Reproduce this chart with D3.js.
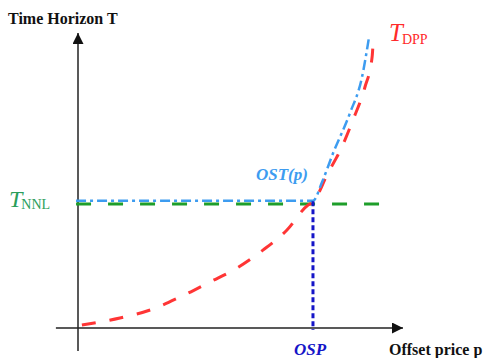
<!DOCTYPE html>
<html>
<head>
<meta charset="utf-8">
<script src="https://cdn.jsdelivr.net/npm/d3@7"></script>
<style>
  body { margin: 0; background: #fff; }
  text { font-family: "Liberation Serif", "DejaVu Serif", serif; }
</style>
</head>
<body>
<div id="chart"></div>
<script>
// T_DPP curve (offset price p, time horizon T)
const dppP = [1.2, 12.9, 22.2, 31.4, 40.6, 48.9, 56.9, 64.3, 70.8, 72.3, 76.9, 81.2, 84.6, 88.3, 90.5, 90.8];
const dppT = [1.0, 3.4, 6.1, 10.5, 15.6, 20.3, 26.4, 33.2, 41.7, 42.7, 52.5, 61.4, 70.5, 81.7, 91.9, 96.9];

// OST(p) curve
const ostP = [-0.6, 72.3, 75.1, 78.5, 83.7, 87.4, 89.5];
const ostT = [43.1, 43.1, 49.5, 59.3, 72.9, 85.1, 98.3];

// T_NNL level and OSP
const nnlP = [-0.6, 97.5];
const nnlT = [42.0, 42.0];
const ospP = 72.3;
const ospT = [43.0, -0.7];

const width = 483, height = 358;

const svg = d3.select('#chart')
  .append('svg')
  .attr('width', width)
  .attr('height', height);

const x = d3.scaleLinear().domain([0, 100]).range([78, 403]);
const y = d3.scaleLinear().domain([0, 100]).range([328, 33]);

// arrow marker
svg.append('defs').append('marker')
  .attr('id', 'arrow')
  .attr('viewBox', '0 0 10 10')
  .attr('refX', 10).attr('refY', 5)
  .attr('markerWidth', 11).attr('markerHeight', 11)
  .attr('markerUnits', 'userSpaceOnUse')
  .attr('orient', 'auto')
  .append('path')
  .attr('d', 'M0,0 L10,5 L0,10 Z')
  .attr('fill', '#111');

// axes
svg.append('line')
  .attr('x1', x(-6.8)).attr('y1', y(0))
  .attr('x2', x(100)).attr('y2', y(0))
  .attr('stroke', '#222').attr('stroke-width', 1.5)
  .attr('marker-end', 'url(#arrow)');

svg.append('line')
  .attr('x1', x(0)).attr('y1', y(-7.8))
  .attr('x2', x(0)).attr('y2', y(100))
  .attr('stroke', '#222').attr('stroke-width', 1.5)
  .attr('marker-end', 'url(#arrow)');

const line = d3.line()
  .x(d => x(d[0]))
  .y(d => y(d[1]))
  .curve(d3.curveMonotoneX);

// green T_NNL
svg.append('path')
  .datum(d3.zip(nnlP, nnlT))
  .attr('d', line)
  .attr('fill', 'none')
  .attr('stroke', '#1e9e2a')
  .attr('stroke-width', 3)
  .attr('stroke-dasharray', '15,17');

// red T_DPP
svg.append('path')
  .datum(d3.zip(dppP, dppT))
  .attr('d', line)
  .attr('fill', 'none')
  .attr('stroke', '#ff3535')
  .attr('stroke-width', 3)
  .attr('stroke-dasharray', '14,14');

// blue OST(p)
svg.append('path')
  .datum(d3.zip(ostP, ostT))
  .attr('d', line)
  .attr('fill', 'none')
  .attr('stroke', '#3d9cf0')
  .attr('stroke-width', 2.5)
  .attr('stroke-dasharray', '10,4,3,4');

// OSP vertical
svg.append('line')
  .attr('x1', x(ospP)).attr('y1', y(ospT[0]))
  .attr('x2', x(ospP)).attr('y2', y(ospT[1]))
  .attr('stroke', '#1515c8')
  .attr('stroke-width', 3)
  .attr('stroke-dasharray', '5,3');

// labels
svg.append('text')
  .attr('x', 8).attr('y', 24)
  .attr('font-size', '16px').attr('font-weight', 'bold')
  .attr('fill', '#111')
  .text('Time Horizon T');

svg.append('text')
  .attr('x', 389).attr('y', 355)
  .attr('font-size', '16px').attr('font-weight', 'bold')
  .attr('fill', '#111')
  .text('Offset price p');

svg.append('text')
  .attr('x', 294).attr('y', 355)
  .attr('font-size', '17px').attr('font-weight', 'bold').attr('font-style', 'italic')
  .attr('fill', '#1515c8')
  .text('OSP');

svg.append('text')
  .attr('x', 256).attr('y', 180)
  .attr('font-size', '17px').attr('font-weight', 'bold').attr('font-style', 'italic')
  .attr('fill', '#3d9cf0')
  .text('OST(p)');

const tdpp = svg.append('text')
  .attr('x', 389).attr('y', 41)
  .attr('fill', '#ff2a2a');
tdpp.append('tspan').attr('font-size', '25px').attr('font-style', 'italic').text('T');
tdpp.append('tspan').attr('font-size', '14px').attr('dy', 3).attr('dx', -1).text('DPP');

const tnnl = svg.append('text')
  .attr('x', 9).attr('y', 207)
  .attr('fill', '#2a9e5a');
tnnl.append('tspan').attr('font-size', '24px').attr('font-style', 'italic').text('T');
tnnl.append('tspan').attr('font-size', '14px').attr('dy', 2).attr('dx', -1).text('NNL');
</script>
</body>
</html>
